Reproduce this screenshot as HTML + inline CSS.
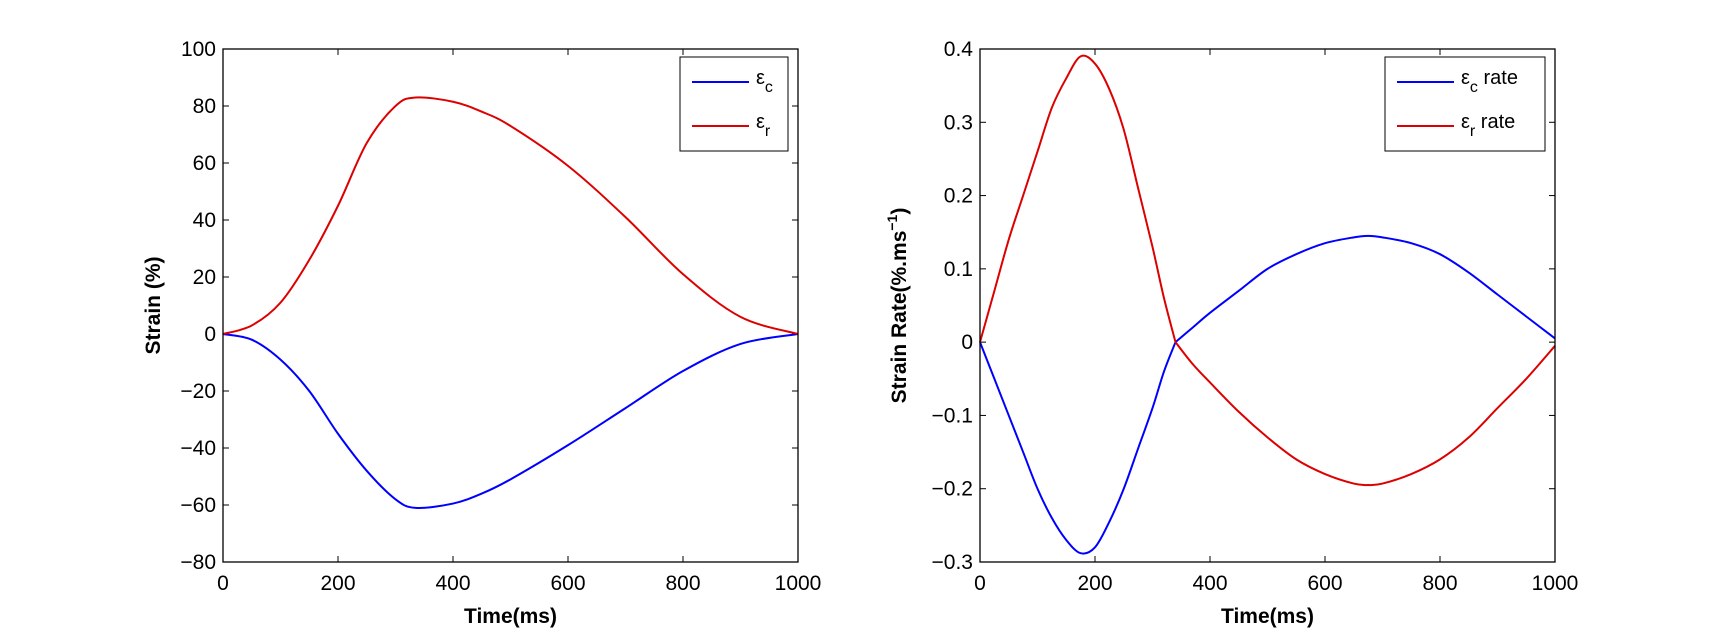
<!DOCTYPE html>
<html><head><meta charset="utf-8"><style>
body{margin:0;background:#fff;width:1716px;height:633px;overflow:hidden}
text{font-family:"Liberation Sans",sans-serif;fill:#000}
</style></head><body>
<svg id="c" width="1716" height="633"></svg>
<script>
const strainT=[0,50,100,150,200,250,300,335,400,450,500,600,700,800,900,1000];
const strainR=[0,3,11,26,45,67,80,83,81.5,78,73,59,41,21,6,0];
const strainC=[0,-2,-9,-20,-35,-48,-58,-61,-59.5,-56,-51,-39,-26,-13,-3.5,0];
const rateT=[0,25,50,75,100,125,150,175,200,225,250,275,300,320,340,370,400,450,500,550,600,650,675,700,750,800,850,900,950,1000];
const rateR=[0,0.07,0.14,0.2,0.26,0.32,0.36,0.39,0.38,0.345,0.29,0.21,0.13,0.06,0,-0.03,-0.055,-0.095,-0.13,-0.16,-0.18,-0.193,-0.195,-0.193,-0.18,-0.16,-0.13,-0.09,-0.05,-0.005];
const rateC=[0,-0.05,-0.1,-0.15,-0.2,-0.24,-0.27,-0.288,-0.28,-0.245,-0.2,-0.145,-0.09,-0.04,0,0.02,0.04,0.07,0.1,0.12,0.135,0.143,0.145,0.143,0.135,0.12,0.095,0.065,0.035,0.005];
const xTicks=[0,200,400,600,800,1000];
const yTicksL=[100,80,60,40,20,0,-20,-40,-60,-80];
const yTicksR=[0.4,0.3,0.2,0.1,0,-0.1,-0.2,-0.3];
const NS="http://www.w3.org/2000/svg";
const svg=document.getElementById('c');
function mk(tag,attrs,parent){const e=document.createElementNS(NS,tag);for(const k in attrs)e.setAttribute(k,attrs[k]);(parent||svg).appendChild(e);return e;}
function smooth(pts,cusp){let d=`M${pts[0][0]},${pts[0][1]}`;for(let i=0;i<pts.length-1;i++){let p0=pts[Math.max(0,i-1)],p1=pts[i],p2=pts[i+1],p3=pts[Math.min(pts.length-1,i+2)];if(i===cusp)p0=p1;if(i+1===cusp)p3=p2;const c1=[p1[0]+(p2[0]-p0[0])/6,p1[1]+(p2[1]-p0[1])/6],c2=[p2[0]-(p3[0]-p1[0])/6,p2[1]-(p3[1]-p1[1])/6];d+=`C${c1[0]},${c1[1]} ${c2[0]},${c2[1]} ${p2[0]},${p2[1]}`;}return d;}
function plot(o){
 const g=mk('g',{});
 
 
 const X=v=>o.x0+(v-0)/1000*(o.x1-o.x0);
 const Y=v=>o.y1-(v-o.ymin)/(o.ymax-o.ymin)*(o.y1-o.y0);
 const fmt=v=>{let s=o.dec?v.toFixed(1):String(v);if(s==='-0.0'||s==='0.0')s='0';return s.replace('-','\u2212');};
 xTicks.forEach(t=>{const x=X(t);
  mk('line',{x1:x,x2:x,y1:o.y1,y2:o.y1-6,stroke:'#000','stroke-width':1},g);
  mk('line',{x1:x,x2:x,y1:o.y0,y2:o.y0+6,stroke:'#000','stroke-width':1},g);
  const tx=mk('text',{x:x,y:o.y1+28,'text-anchor':'middle','font-size':21},g);tx.textContent=t;
  
  });
 o.yt.forEach(t=>{const y=Y(t);
  mk('line',{x1:o.x0,x2:o.x0+6,y1:y,y2:y,stroke:'#000','stroke-width':1},g);
  mk('line',{x1:o.x1,x2:o.x1-6,y1:y,y2:y,stroke:'#000','stroke-width':1},g);
  const tx=mk('text',{x:o.x0-7,y:y+7,'text-anchor':'end','font-size':21},g);tx.textContent=fmt(t);
  
  });
 o.series.forEach(s=>{const cusp=o.cuspT===undefined?-1:s.t.indexOf(o.cuspT);
  const p=mk('path',{d:smooth(s.t.map((t,i)=>[X(t),Y(s.v[i])]),cusp),fill:'none',stroke:s.c,'stroke-width':2},g);
  
  });
 const box=mk('rect',{x:o.x0,y:o.y0,width:o.x1-o.x0,height:o.y1-o.y0,fill:'none',stroke:'#000','stroke-width':1.3},g);
 
 
 const xl=mk('text',{x:(o.x0+o.x1)/2,y:623,'text-anchor':'middle','font-size':21,'font-weight':'bold'},g);xl.textContent='Time(ms)';
 
 
 const yl=mk('text',{x:0,y:0,'text-anchor':'middle','font-size':21,'font-weight':'bold',transform:`translate(${o.ylx},${(o.y0+o.y1)/2}) rotate(-90)`},g);yl.innerHTML=o.ylabel;
 
 
 const lg=mk('g',{},g);
 
 
 mk('rect',{x:o.lx,y:57,width:o.lw,height:94,fill:'#fff',stroke:'#000','stroke-width':1},lg);
 o.series.forEach((s,i)=>{const y=82+i*44;
  mk('line',{x1:o.lx+12,x2:o.lx+69,y1:y,y2:y,stroke:s.c,'stroke-width':2},lg);
  const t=mk('text',{x:o.lx+76,y:y+2,'font-size':20},lg);t.innerHTML=s.label;
  
  });
}
plot({name:'strain-chart',x0:223,x1:798,y0:49,y1:562,ymin:-80,ymax:100,yt:yTicksL,dec:false,ylx:160,
 ylabel:'Strain (%)',lx:680,lw:108,
 series:[{t:strainT,v:strainC,c:'#0000ff',name:'strain-c-line',label:'ε<tspan font-size="16" dy="8">c</tspan>'},
         {t:strainT,v:strainR,c:'#dd0000',name:'strain-r-line',label:'ε<tspan font-size="16" dy="8">r</tspan>'}]});
plot({name:'strain-rate-chart',x0:980,x1:1555,y0:49,y1:562,ymin:-0.3,ymax:0.4,yt:yTicksR,dec:true,ylx:906,cuspT:340,
 ylabel:'Strain Rate(%.ms<tspan font-size="14" dy="-9">−1</tspan><tspan dy="9">)</tspan>',lx:1385,lw:160,
 series:[{t:rateT,v:rateC,c:'#0000ff',name:'rate-c-line',label:'ε<tspan font-size="16" dy="8">c</tspan><tspan dy="-8"> rate</tspan>'},
         {t:rateT,v:rateR,c:'#dd0000',name:'rate-r-line',label:'ε<tspan font-size="16" dy="8">r</tspan><tspan dy="-8"> rate</tspan>'}]});
</script>
</body></html>
